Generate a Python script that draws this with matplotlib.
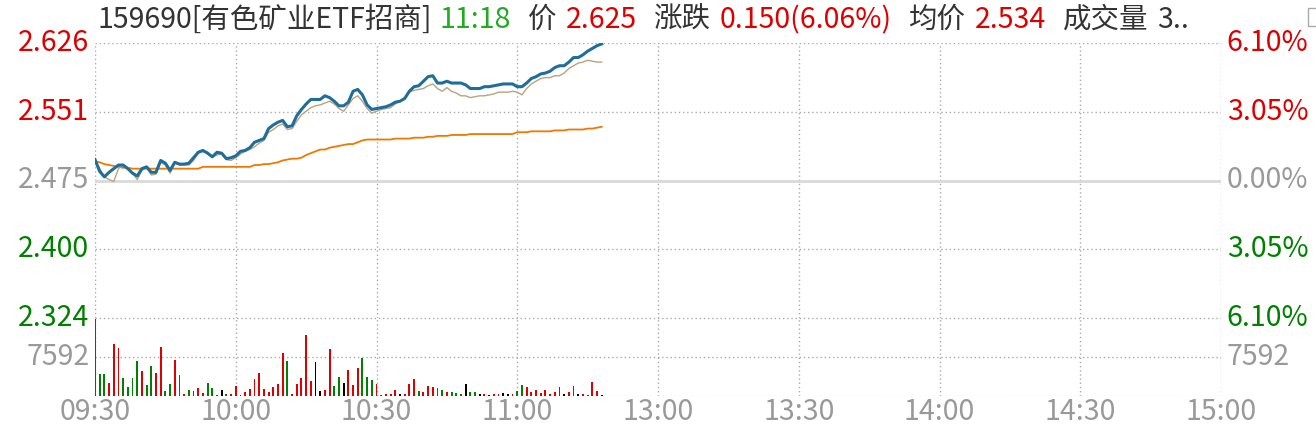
import matplotlib
matplotlib.use("Agg")
import matplotlib.pyplot as plt

plt.rcParams['font.family'] = ['Noto Sans CJK SC', 'DejaVu Sans']

# data
pre_close = 2.475
last = 2.625
avg_last = 2.534

price = [2.498, 2.485, 2.479, 2.484, 2.488, 2.492, 2.492, 2.488, 2.483, 2.480,
         2.488, 2.490, 2.484, 2.484, 2.497, 2.494, 2.486, 2.495, 2.493, 2.493,
         2.494, 2.500, 2.506, 2.508, 2.505, 2.501, 2.506, 2.505, 2.499, 2.500,
         2.502, 2.507, 2.508, 2.511, 2.517, 2.519, 2.521, 2.532, 2.536, 2.539,
         2.541, 2.534, 2.535, 2.546, 2.553, 2.559, 2.564, 2.564, 2.564, 2.568,
         2.566, 2.562, 2.557, 2.557, 2.561, 2.573, 2.575, 2.569, 2.558, 2.553,
         2.554, 2.555, 2.556, 2.558, 2.561, 2.562, 2.565, 2.573, 2.578, 2.579,
         2.584, 2.589, 2.590, 2.582, 2.582, 2.584, 2.582, 2.582, 2.582, 2.580,
         2.576, 2.576, 2.576, 2.578, 2.578, 2.579, 2.580, 2.581, 2.581, 2.581,
         2.578, 2.578, 2.582, 2.587, 2.589, 2.592, 2.593, 2.595, 2.599, 2.601,
         2.601, 2.605, 2.610, 2.610, 2.613, 2.617, 2.620, 2.623, 2.625]

iopv = [2.497, 2.488, 2.479, 2.476, 2.474, 2.488, 2.492, 2.489, 2.483, 2.476,
        2.486, 2.489, 2.481, 2.482, 2.495, 2.492, 2.483, 2.494, 2.492, 2.492,
        2.492, 2.497, 2.505, 2.507, 2.505, 2.501, 2.503, 2.504, 2.498, 2.497,
        2.500, 2.504, 2.507, 2.509, 2.512, 2.516, 2.519, 2.528, 2.531, 2.535,
        2.537, 2.531, 2.532, 2.540, 2.547, 2.551, 2.555, 2.557, 2.558, 2.560,
        2.562, 2.559, 2.554, 2.551, 2.558, 2.565, 2.568, 2.562, 2.554, 2.549,
        2.551, 2.553, 2.554, 2.555, 2.559, 2.562, 2.566, 2.572, 2.574, 2.575,
        2.576, 2.579, 2.581, 2.576, 2.573, 2.577, 2.573, 2.571, 2.568, 2.568,
        2.566, 2.567, 2.568, 2.568, 2.569, 2.570, 2.572, 2.572, 2.572, 2.573,
        2.572, 2.569, 2.576, 2.581, 2.584, 2.587, 2.588, 2.588, 2.590, 2.590,
        2.593, 2.598, 2.601, 2.604, 2.605, 2.607, 2.606, 2.605, 2.605]

avg = [2.496, 2.495, 2.493, 2.492, 2.491, 2.490, 2.489, 2.489, 2.488, 2.488,
       2.488, 2.488, 2.488, 2.488, 2.488, 2.488, 2.488, 2.488, 2.488, 2.488,
       2.488, 2.488, 2.488, 2.490, 2.490, 2.490, 2.490, 2.490, 2.490, 2.490,
       2.490, 2.490, 2.490, 2.490, 2.492, 2.492, 2.493, 2.493, 2.494, 2.495,
       2.497, 2.498, 2.499, 2.499, 2.500, 2.503, 2.505, 2.507, 2.509, 2.509,
       2.511, 2.512, 2.513, 2.514, 2.515, 2.515, 2.517, 2.519, 2.520, 2.520,
       2.520, 2.520, 2.520, 2.520, 2.521, 2.521, 2.521, 2.521, 2.522, 2.522,
       2.522, 2.523, 2.523, 2.524, 2.524, 2.524, 2.525, 2.525, 2.525, 2.525,
       2.526, 2.526, 2.526, 2.526, 2.526, 2.526, 2.526, 2.526, 2.526, 2.526,
       2.528, 2.528, 2.528, 2.529, 2.529, 2.529, 2.529, 2.529, 2.530, 2.530,
       2.530, 2.531, 2.531, 2.531, 2.531, 2.532, 2.532, 2.533, 2.534]

volume = [14934, 4283, 4283, 2531, 10183, 9346, 3505, 1752, 3505, 6815,
          4868, 2142, 5841, 4478, 9540, 973, 2336, 7009, 4089, 389,
          1168, 973, 1558, 584, 2531, 1558, 195, 1168, 389, 389,
          1947, 195, 779, 1363, 3310, 4478, 1363, 779, 1810, 2336,
          8432, 6815, 389, 2336, 3570, 11877, 2980, 6620, 1038, 1168,
          9151, 1947, 3699, 2531, 5062, 2142, 5452, 7399, 3699, 3115,
          2336, 195, 389, 389, 1168, 389, 389, 2336, 3310, 973,
          779, 1947, 1752, 1558, 1168, 779, 779, 584, 389, 2336,
          779, 779, 389, 389, 195, 389, 389, 584, 389, 389,
          973, 2142, 1752, 779, 1168, 584, 1168, 389, 779, 1752,
          389, 779, 1947, 389, 389, 195, 2726, 973, 195]

# 1 up, -1 down, 0 flat
direction = [1, -1, -1, 1, 1, 1, -1, -1, -1, -1,
             1, -1, -1, 1, 1, -1, -1, 1, -1, 1,
             -1, 1, 1, 1, -1, -1, 1, 0, -1, 1,
             1, 1, 1, 1, 1, 1, 1, 1, 1, 1,
             1, -1, 1, 1, 1, 1, 1, 0, 0, 1,
             1, -1, -1, 0, 1, 1, 1, -1, -1, -1,
             1, 1, 1, 1, 1, 0, 1, 1, 1, -1,
             1, 1, 1, -1, -1, 1, -1, -1, -1, 0,
             -1, -1, 0, 1, 0, 1, 1, 0, 0, 1,
             -1, -1, 1, 1, 1, 1, 1, 1, 1, 1,
             0, 1, 1, 0, 1, 1, 1, 1, 0]

price_labels = ['2.626', '2.551', '2.475', '2.400', '2.324']
pct_labels = ['6.10%', '3.05%', '0.00%', '3.05%', '6.10%']
time_ticks = [0, 30, 60, 90, 120, 150, 180, 210, 240]
time_labels = ['09:30', '10:00', '10:30', '11:00', '13:00', '13:30', '14:00', '14:30', '15:00']
vol_ref = 7592

RED = '#dd0000'
GREEN = '#008000'
GRAY = '#999999'
DARK = '#333333'
FS = 20.5

W, H = 1316, 432
fig = plt.figure(figsize=(W / 100, H / 100), dpi=100)

x0, x1 = 95, 1221
ax = fig.add_axes([x0 / W, (H - 318) / H, (x1 - x0) / W, 275 / H])
axv = fig.add_axes([x0 / W, (H - 396) / H, (x1 - x0) / W, 78 / H])

span = pre_close * 0.061
lo, hi = pre_close - span, pre_close + span
levels = [hi, pre_close + span / 2, pre_close, pre_close - span / 2, lo]
lvl_colors = [RED, RED, GRAY, GREEN, GREEN]

minutes = list(range(len(price)))

for a in (ax, axv):
    a.set_xlim(0, 240)
    for s in a.spines.values():
        s.set_visible(False)
    a.tick_params(length=0)
    for t in time_ticks:
        a.axvline(t, color='#aaaaaa', lw=1, ls=(0, (1, 2)), zorder=0)

ax.set_ylim(lo, hi)
ax.set_yticks([])
ax.set_xticks([])
for lv in levels:
    if lv == pre_close:
        ax.axhline(lv, color='#d9d9d9', lw=2, zorder=0)
    else:
        ax.axhline(lv, color='#aaaaaa', lw=1, ls=(0, (1, 2)), zorder=0)
for lv, pl, p, c in zip(levels, price_labels, pct_labels, lvl_colors):
    ax.text(-0.005, lv, pl, transform=ax.get_yaxis_transform(), ha='right',
            va='center', color=c, fontsize=FS)
    ax.text(1.005, lv, p, transform=ax.get_yaxis_transform(), ha='left',
            va='center', color=c, fontsize=FS)

ax.plot(minutes, avg, color='#f07800', lw=1.3, zorder=3)
ax.plot(minutes, iopv, color='#b9a27f', lw=1.0, zorder=4)
ax.plot(minutes, price, color='#1f6e99', lw=2.2, zorder=5)

# volume
colors = [RED if d > 0 else (GREEN if d < 0 else 'black') for d in direction]
axv.bar(minutes, volume, width=0.4, color=colors, zorder=3)
axv.set_ylim(0, vol_ref * 2)
axv.set_yticks([])
axv.axhline(vol_ref, color='#aaaaaa', lw=1, ls=(0, (1, 2)), zorder=0)
axv.axhline(vol_ref * 2, color='#aaaaaa', lw=1, ls=(0, (1, 2)), zorder=0)
axv.axhline(0, color='#dddddd', lw=1, ls=(0, (1, 2)), zorder=0)
axv.text(-0.005, vol_ref, str(vol_ref), transform=axv.get_yaxis_transform(), ha='right',
         va='center', color=GRAY, fontsize=FS)
axv.text(1.005, vol_ref, str(vol_ref), transform=axv.get_yaxis_transform(), ha='left',
         va='center', color=GRAY, fontsize=FS)
axv.set_xticks(time_ticks)
axv.set_xticklabels(time_labels, color=GRAY, fontsize=FS)
axv.tick_params(axis='x', pad=1)

# header, laid out left to right with small gaps
hy = 1 - 20 / H
parts = [("159690[有色矿业ETF招商]", DARK, 0), ("11:18", '#22aa22', 8),
         ("价", DARK, 17), ("2.625", RED, 9), ("涨跌", DARK, 17),
         ("0.150(6.06%)", RED, 9), ("均价", DARK, 17), ("2.534", RED, 9),
         ("成交量", DARK, 17), ("3..", DARK, 9)]
renderer = fig.canvas.get_renderer()
px = 97
for txt, c, gap in parts:
    px += gap
    t = fig.text(px / W, hy, txt, color=c, fontsize=FS, va='center', ha='left')
    px += t.get_window_extent(renderer).width

fig.patches.append(plt.Rectangle((1308 / W, 1 - 26 / H), 12 / W, 18 / H,
                                 transform=fig.transFigure, fill=False,
                                 edgecolor='#aaaaaa', lw=1))

fig.savefig('out.png', dpi=100, facecolor='white')
